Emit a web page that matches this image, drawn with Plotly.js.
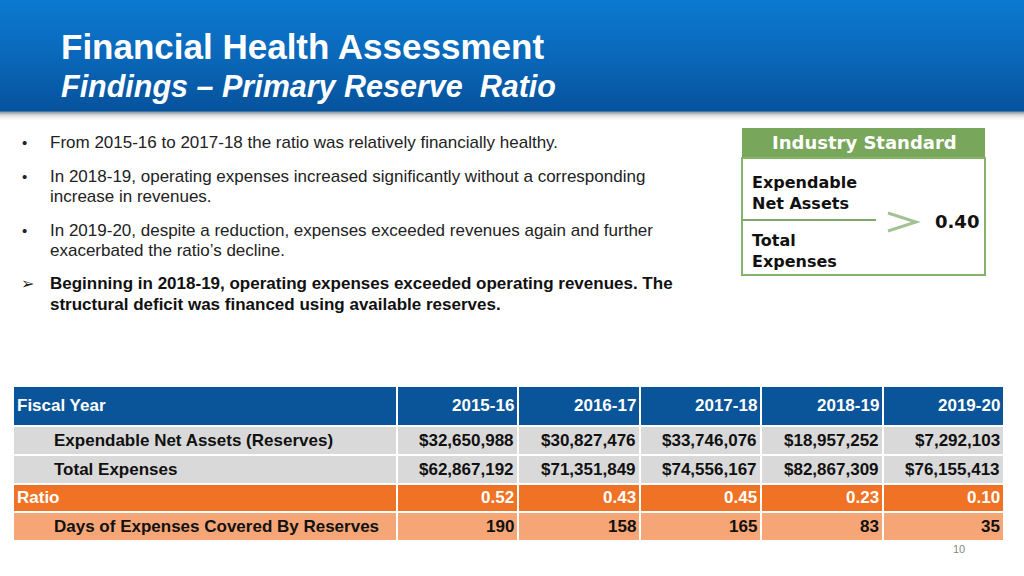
<!DOCTYPE html>
<html>
<head>
<meta charset="utf-8">
<script src="https://cdn.plot.ly/plotly-3.0.1.min.js"></script>
<style>
  html, body { margin:0; padding:0; background:#fff; }
  #wrap { position:relative; width:1024px; height:576px; overflow:hidden;
    background: linear-gradient(to bottom, #0B7AD1 0px, #0A68BA 55px, #06529C 111px, #8a98a8 112px, #d8d8d8 115px, #f4f4f4 118px, #ffffff 121px); }
  #chart { position:absolute; left:0; top:0; width:1024px; height:576px; }
</style>
</head>
<body>
<div id="wrap"><div id="chart"></div></div>
<script>
// ---- data ----
var fiscalYears = ["2015-16", "2016-17", "2017-18", "2018-19", "2019-20"];
var headerLabel = "Fiscal Year";
var rowLabels = ["Expendable Net Assets (Reserves)", "Total Expenses", "Ratio", "Days of Expenses Covered By Reserves"];
var reserves = [32650988, 30827476, 33746076, 18957252, 7292103];
var expenses = [62867192, 71351849, 74556167, 82867309, 76155413];
var ratios = [0.52, 0.43, 0.45, 0.23, 0.10];
var daysCovered = [190, 158, 165, 83, 35];
var industryStandard = 0.40;

var bullets = [
  ["From 2015-16 to 2017-18 the ratio was relatively financially healthy."],
  ["In 2018-19, operating expenses increased significantly without a corresponding", "increase in revenues."],
  ["In 2019-20, despite a reduction, expenses exceeded revenues again and further", "exacerbated the ratio\u2019s decline."]
];
var keyPoint = ["Beginning in 2018-19, operating expenses exceeded operating revenues. The", "structural deficit was financed using available reserves."];

// ---- layout constants (styling, not data) ----
var W = 1024, H = 576;
function px(x){ return x / W; }
function py(y){ return 1 - y / H; }
function money(v){ return "$" + v.toLocaleString("en-US"); }
var FONT = "Liberation Sans, Arial, sans-serif";
var WIDE = "DejaVu Sans, Verdana, sans-serif";

var BLUE = "#0A5499", GREY = "#D9D9D9", ORANGE = "#F07224", PEACH = "#F6A676";
var GREEN = "#78A65A", GREEN_LINE = "#86B36A";

var columnWidths = [384, 121, 122, 121, 122, 121];
var rowHeights = [39.5, 29.5, 28.5, 28.5, 28.5];
var rowStyle = [0, 1, 1, 2, 3];       // header, grey, grey, orange, peach
var rowIndent = [2, 39, 39, 2, 39];
var rowTextColor = ["#ffffff", "#111111", "#111111", "#ffffff", "#111111"];

function cumulative(a){ var out = [0]; a.forEach(function(v){ out.push(out[out.length-1] + v); }); return out; }
var xEdges = cumulative(columnWidths);
var yEdges = cumulative(rowHeights);

// ---- table grid as heatmap ----
var z = rowStyle.map(function(s){ return columnWidths.map(function(){ return s; }); });
var grid = {
  type: "heatmap", x: xEdges, y: yEdges, z: z,
  zmin: 0, zmax: 3, showscale: false, xgap: 2, ygap: 2, hoverinfo: "skip",
  colorscale: [[0, BLUE], [0.1667, BLUE], [0.1667, GREY], [0.5, GREY], [0.5, ORANGE], [0.8333, ORANGE], [0.8333, PEACH], [1, PEACH]]
};

// table texts
var rowsText = [
  [headerLabel].concat(fiscalYears),
  [rowLabels[0]].concat(reserves.map(money)),
  [rowLabels[1]].concat(expenses.map(money)),
  [rowLabels[2]].concat(ratios.map(function(r){ return r.toFixed(2); })),
  [rowLabels[3]].concat(daysCovered.map(String))
];

var ann = [];
rowsText.forEach(function(row, r){
  var yc = (yEdges[r] + yEdges[r+1]) / 2;
  row.forEach(function(t, c){
    var left = c === 0;
    ann.push({
      xref: "x", yref: "y",
      x: left ? xEdges[0] + rowIndent[r] : xEdges[c+1] - 2.5,
      y: yc, text: "<b>" + t + "</b>", showarrow: false,
      xanchor: left ? "left" : "right", yanchor: "middle",
      font: { family: FONT, size: 17, color: rowTextColor[r] }
    });
  });
});

function txt(x, y, text, opts) {
  var o = {
    xref: "paper", yref: "paper", x: px(x), y: py(y), text: text,
    showarrow: false, xanchor: "left", yanchor: "middle",
    font: { family: FONT, size: 17, color: "#222" }
  };
  for (var k in opts) o[k] = opts[k];
  ann.push(o);
}
// title
txt(59, 47, "<b>Financial Health Assessment</b>", { font: { family: FONT, size: 35, color: "#ffffff" } });
txt(59, 86, "<b><i>Findings \u2013 Primary Reserve\u00A0 Ratio</i></b>", { font: { family: FONT, size: 30.5, color: "#ffffff" } });

// bullets
var lineYs = [[143], [176, 197], [230, 250]];
bullets.forEach(function(lines, i){
  txt(20, lineYs[i][0], "\u2022", { font: { family: FONT, size: 15, color: "#222" } });
  lines.forEach(function(l, j){ txt(48, lineYs[i][j], l, { font: { family: FONT, size: 17, color: "#222" } }); });
});
txt(19, 283, "\u27A2", { font: { family: WIDE, size: 16, color: "#222" } });
keyPoint.forEach(function(l, j){
  txt(48, [283, 304][j], "<b>" + l + "</b>", { font: { family: FONT, size: 17, color: "#111" } });
});

// industry standard box text
txt(864, 143, "<b>Industry Standard</b>", { xanchor: "center", font: { family: WIDE, size: 18, color: "#ffffff" } });
txt(750, 182, "<b>Expendable</b>", { font: { family: WIDE, size: 16, color: "#111" } });
txt(750, 203, "<b>Net Assets</b>", { font: { family: WIDE, size: 16, color: "#111" } });
txt(750, 240, "<b>Total</b>", { font: { family: WIDE, size: 16, color: "#111" } });
txt(750, 261, "<b>Expenses</b>", { font: { family: WIDE, size: 16, color: "#111" } });
txt(981, 221, "<b>" + industryStandard.toFixed(2) + "</b>", { xanchor: "right", font: { family: WIDE, size: 18, color: "#111" } });

// page number
txt(959, 549, "10", { xanchor: "center", font: { family: FONT, size: 11, color: "#888" } });

// ---- decorative shapes ----
var shapes = [
  { type: "rect", xref: "paper", yref: "paper", x0: px(742), x1: px(985), y0: py(158), y1: py(128),
    fillcolor: GREEN, line: { width: 0 }, layer: "below" },
  { type: "rect", xref: "paper", yref: "paper", x0: px(742), x1: px(985), y0: py(275), y1: py(158),
    fillcolor: "#ffffff", line: { color: GREEN_LINE, width: 2 }, layer: "below" },
  { type: "line", xref: "paper", yref: "paper", x0: px(742), x1: px(876), y0: py(220), y1: py(220),
    line: { color: "#7FA866", width: 2 } },
  { type: "path", xref: "paper", yref: "paper",
    path: "M " + px(888) + "," + py(213) + " L " + px(916) + "," + py(222) + " L " + px(888) + "," + py(231),
    line: { color: "#A3C293", width: 3 } }
];

var layout = {
  width: W, height: H,
  margin: { l: 0, r: 0, t: 0, b: 0 },
  paper_bgcolor: "rgba(0,0,0,0)",
  plot_bgcolor: "rgba(0,0,0,0)",
  showlegend: false,
  xaxis: { domain: [px(13), px(1004)], range: [0, xEdges[xEdges.length-1]], visible: false, fixedrange: true },
  yaxis: { domain: [py(540.5), py(386)], range: [yEdges[yEdges.length-1], 0], visible: false, fixedrange: true },
  annotations: ann,
  shapes: shapes,
  font: { family: FONT }
};

Plotly.newPlot("chart", [grid], layout, { staticPlot: true, displayModeBar: false });
</script>
</body>
</html>
